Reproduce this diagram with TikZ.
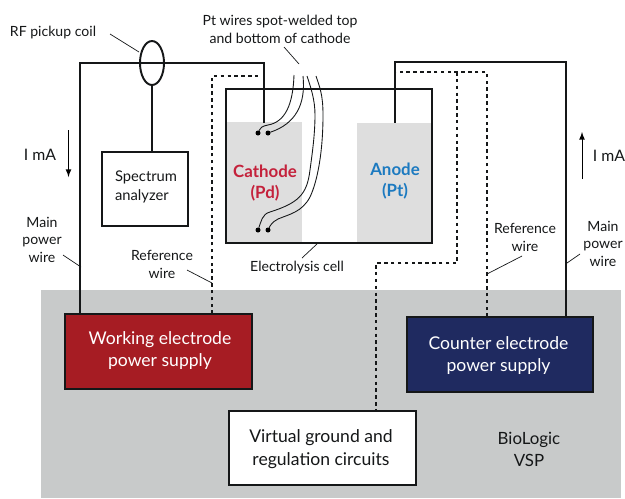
\documentclass[tikz,border=0pt]{standalone}
\usepackage{fontspec}
\setmainfont{Lato}
\usetikzlibrary{arrows,arrows.meta,shapes}
\definecolor{bggray}{HTML}{C8CACA}
\definecolor{metalgray}{HTML}{DEDEDE}
\definecolor{supplyred}{HTML}{A61C23}
\definecolor{supplyblue}{HTML}{1F2A60}
\definecolor{cathodered}{HTML}{C4213B}
\definecolor{anodeblue}{HTML}{1C7AC0}
\definecolor{linecol}{HTML}{151718}

\begin{document}
\begin{tikzpicture}[>=latex,x=0.02cm,y=-0.02cm]
  \tikzstyle{every node}=[inner sep=0pt,outer sep=0pt,align=center,text=linecol,font=\fontsize{8pt}{10pt}\selectfont]
  \tikzstyle{box}=[draw=linecol,line width=0.9pt]
  \tikzstyle{boxtext}=[font=\fontsize{10pt}{13pt}\selectfont]
  \tikzstyle{metal}=[fill=metalgray]
  \tikzstyle{wire}=[draw=linecol,line width=1.2pt]
  \tikzstyle{refwire}=[draw=linecol,line width=1.1pt,dash pattern=on 2pt off 1.9pt]
  \tikzstyle{ptwire}=[draw=linecol,line width=0.5pt]
  \tikzstyle{leader}=[draw=linecol,line width=0.4pt]
  \tikzstyle{dot}=[circle,fill=black,minimum size=0.1cm]
  \useasboundingbox (0,0) rectangle (625,498);

  \node[fill=bggray,minimum width=11.6cm,minimum height=4.16cm] at (331,394) (BG) {};
  \node[metal,minimum width=1.52cm,minimum height=2.42cm] at (264,182.5) (CA) {};
  \node[metal,minimum width=1.5cm,minimum height=2.4cm] at (394.5,183) (AN) {};
  \node[draw=linecol,line width=1pt,minimum width=4.12cm,minimum height=3.08cm] at (329,166) (CELL) {};

  \node[box,fill=supplyred,minimum width=3.74cm,minimum height=1.5cm] at (158.5,351.5) (WE) {};
  \node[boxtext,text=white] at (160,350.5) {Working electrode\\power supply};
  \node[box,fill=supplyblue,minimum width=3.72cm,minimum height=1.5cm] at (500,354.5) (CE) {};
  \node[boxtext,text=white] at (498.5,355.5) {Counter electrode\\power supply};
  \node[box,fill=white,minimum width=3.74cm,minimum height=1.48cm] at (322.5,448) (VG) {};
  \node[boxtext] at (321,449) {Virtual ground and\\regulation circuits};
  \node[box,minimum width=1.72cm,minimum height=1.48cm] at (145,189) (SA) {};
  \node[font=\fontsize{8.4pt}{10.5pt}\selectfont,align=left] at (146,187) {Spectrum\\analyzer};
  \node[draw=linecol,line width=1.1pt,ellipse,minimum width=0.48cm,minimum height=0.88cm] at (152,63) (COIL) {};

  \node[dot] at (258,133) (D1) {};
  \node[dot] at (268,133) (D2) {};
  \node[dot] at (258,230) (D3) {};
  \node[dot] at (268,230) (D4) {};

  \node[font=\bfseries\fontsize{9.6pt}{12pt}\selectfont,text=cathodered] at (265,183) {Cathode\\(Pd)};
  \node[font=\bfseries\fontsize{9.6pt}{12pt}\selectfont,text=anodeblue] at (395,181) {Anode\\(Pt)};
  \node at (53,32.5) (RF) {RF pickup coil};
  \node at (280,29.5) (PT) {Pt wires spot-welded top\\and bottom of cathode};
  \node at (297,267.5) (EC) {Electrolysis cell};
  \node at (42,239.5) (MPL) {Main\\power\\wire};
  \node at (162,264.5) (RWL) {Reference\\wire};
  \node at (525,237.5) (RWR) {Reference\\wire};
  \node at (603,243.5) (MPR) {Main\\power\\wire};
  \node[font=\fontsize{9pt}{11pt}\selectfont] at (40,154.5) (IL) {I mA};
  \node[font=\fontsize{9pt}{11pt}\selectfont] at (609,155.5) (IR) {I mA};
  \node[font=\fontsize{9.6pt}{12.5pt}\selectfont] at (529,449) (BL) {BioLogic\\VSP};

  % wire corners
  \coordinate (c1) at (80,63);
  \coordinate (c2) at (264,63);
  \coordinate (c3) at (264,123);
  \coordinate (c4) at (566,62);
  \coordinate (c5) at (395,62);
  \coordinate (c6) at (395,123);
  \coordinate (d1) at (212,76);
  \coordinate (d2) at (258,76);
  \coordinate (d3) at (487,72);
  \coordinate (d4) at (395,72);
  \coordinate (d5) at (457,72);
  \coordinate (d6) at (457,263);
  \coordinate (d7) at (376,263);
  \coordinate (w1) at (80,314);
  \coordinate (w2) at (212,314);
  \coordinate (w3) at (566,317);
  \coordinate (w4) at (487,317);
  \coordinate (w5) at (376,411);

  \draw[wire] (w1) -- (c1) -- (c2) -- (c3);
  \draw[wire] (w3) -- (c4) -- (c5) -- (c6);
  \draw[wire] (COIL.south) -- (SA.north -| COIL.south);
  \draw[refwire] (w2) -- (d1) -- (d2);
  \draw[refwire] (w4) -- (d3) -- (d4);
  \draw[refwire] (d5) -- (d6) -- (d7) -- (w5);

  % Pt wires
  \coordinate (p1) at (294,75);
  \coordinate (p2) at (303,76);
  \coordinate (p3) at (307,76);
  \coordinate (p4) at (316,76);
  \draw[ptwire] (p1) .. controls (293,105) and (285,122) .. (268,125) .. controls (262,126) and (260,128) .. (D1);
  \draw[ptwire] (p2) .. controls (306,105) and (295,124) .. (D2);
  \draw[ptwire] (p3) .. controls (311,88) and (315,100) .. (315,115) .. controls (315,135) and (312,155) .. (310,170) .. controls (307,195) and (298,203) .. (270,212) .. controls (262,214) and (261,222) .. (D3);
  \draw[ptwire] (p4) .. controls (320,88) and (323,95) .. (323,115) .. controls (323,150) and (318,180) .. (310,197) .. controls (302,212) and (290,214) .. (278,219) .. controls (272,222) and (270,226) .. (D4);

  % leaders
  \coordinate (l1) at (110,34);
  \coordinate (l2) at (139,52);
  \coordinate (l3) at (284,47);
  \coordinate (l4) at (299,64);
  \coordinate (l5) at (63,255);
  \coordinate (l6) at (81,267);
  \coordinate (l7) at (187,270);
  \coordinate (l8) at (212,283);
  \coordinate (l9) at (522,256);
  \coordinate (l10) at (487,274);
  \coordinate (l11) at (580,254);
  \coordinate (l12) at (567,263);
  \coordinate (l13) at (318,243);
  \coordinate (l14) at (302,258);
  \path[leader] (l1) edge (l2) (l3) edge (l4) (l5) edge (l6) (l7) edge (l8)
        (l9) edge (l10) (l11) edge (l12) (l13) edge (l14);

  % current arrows
  \coordinate (a1) at (68.5,130);
  \coordinate (a2) at (68.5,177);
  \coordinate (a3) at (582,179);
  \coordinate (a4) at (582,132);
  \draw[->,draw=black,line width=0.5pt] (a1) -- (a2);
  \draw[->,draw=black,line width=0.5pt] (a3) -- (a4);
\end{tikzpicture}
\end{document}
